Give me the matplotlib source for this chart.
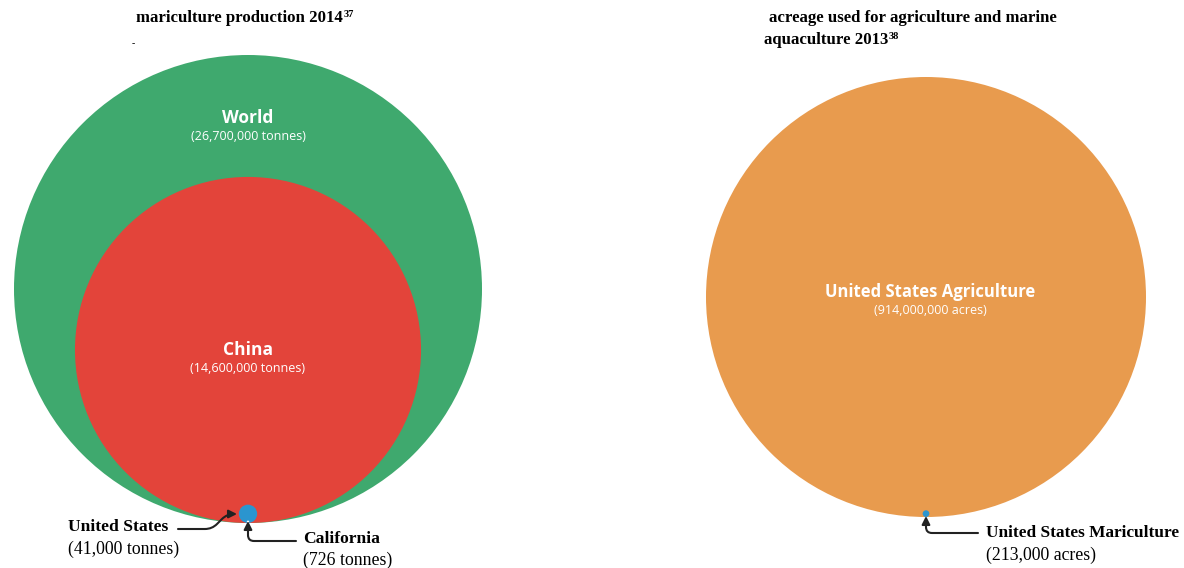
import numpy as np
import matplotlib
matplotlib.use("Agg")
import matplotlib.pyplot as plt
from matplotlib.patches import Circle

# left panel: mariculture production 2014 (tonnes)
prod_names = ["World", "China", "United States", "California"]
prod_values = [26700000, 14600000, 41000, 726]
prod_labels = ["(26,700,000 tonnes)", "(14,600,000 tonnes)",
               "(41,000 tonnes)", "(726 tonnes)"]
prod_colors = ["#3fa96e", "#e3443a", "#2b95cf", "#ffffff"]

# right panel: acreage 2013 (acres)
acre_names = ["United States Agriculture", "United States Mariculture"]
acre_values = [914000000, 213000]
acre_labels = ["(914,000,000 acres)", "(213,000 acres)"]
acre_colors = ["#e89b4e", "#2b95cf"]

W, H = 1184, 568
fig = plt.figure(figsize=(W / 100, H / 100), dpi=100)
ax = fig.add_axes([0, 0, 1, 1])
ax.set_xlim(0, W)
ax.set_ylim(H, 0)
ax.set_aspect("equal")
ax.axis("off")

serif = "Liberation Serif"
sans = "Open Sans"


def nested(values, colors, cx, bottom, rmax):
    # circles tangent at the bottom, area proportional to value
    radii = []
    for v, c in zip(values, colors):
        r = rmax * np.sqrt(v / values[0])
        radii.append(r)
        ax.add_patch(Circle((cx, bottom - r), max(r, 1.0), color=c, lw=0))
    return radii


def sup(t, s):
    # superscript footnote right after a title
    ax.annotate(s, xy=(1, 0.45), xycoords=t, xytext=(0.5, 0),
                textcoords="offset points", family=serif, weight="bold",
                fontsize=7.5, ha="left", va="bottom")


# left
lr = nested(prod_values, prod_colors, 248, 523, 234)
ax.text(248, 118, prod_names[0], color="white", ha="center", va="center",
        family=sans, weight="bold", fontsize=12.5)
ax.text(248, 137, prod_labels[0], color="white", ha="center", va="center",
        family=sans, fontsize=9)
ax.text(248, 350, prod_names[1], color="white", ha="center", va="center",
        family=sans, weight="bold", fontsize=12.5)
ax.text(248, 369, prod_labels[1], color="white", ha="center", va="center",
        family=sans, fontsize=9)

# right
rr = nested(acre_values, acre_colors, 926, 517, 220)
ax.text(930, 292, acre_names[0], color="white", ha="center", va="center",
        family=sans, weight="bold", fontsize=12)
ax.text(930, 311, acre_labels[0], color="white", ha="center", va="center",
        family=sans, fontsize=9)

# titles
t1 = ax.text(136, 18, "mariculture production 2014", family=serif,
             weight="bold", fontsize=12.1, ha="left", va="center")
sup(t1, "37")
ax.text(132, 44, "-", family=serif, fontsize=7, ha="left", va="center")
ax.text(769, 18, "acreage used for agriculture and marine", family=serif,
        weight="bold", fontsize=12.1, ha="left", va="center")
t2 = ax.text(764, 40, "aquaculture 2013", family=serif, weight="bold",
             fontsize=12.1, ha="left", va="center")
sup(t2, "38")

# annotations
arrow = dict(arrowstyle="-|>", color="#222222", lw=1.5, mutation_scale=12,
             shrinkA=0, shrinkB=0)
ax.text(68, 527, prod_names[2], family=serif, weight="bold", fontsize=12.6,
        ha="left", va="center")
ax.text(68, 549, prod_labels[2], family=serif, fontsize=12.8,
        ha="left", va="center")
ax.annotate("", xy=(237, 514), xytext=(178, 529),
            arrowprops=dict(arrow, connectionstyle="arc,angleA=0,angleB=180,armA=34,armB=10,rad=7"))

ax.text(303, 539, prod_names[3], family=serif, weight="bold", fontsize=12.6,
        ha="left", va="center")
ax.text(303, 560, prod_labels[3], family=serif, fontsize=12.8,
        ha="left", va="center")
ax.annotate("", xy=(248, 521), xytext=(296, 541),
            arrowprops=dict(arrow, connectionstyle="angle,angleA=180,angleB=90,rad=6"))

ax.text(986, 533, acre_names[1], family=serif, weight="bold", fontsize=12.4,
        ha="left", va="center")
ax.text(986, 555, acre_labels[1], family=serif, fontsize=12.8,
        ha="left", va="center")
ax.annotate("", xy=(926, 516), xytext=(978, 533),
            arrowprops=dict(arrow, connectionstyle="angle,angleA=180,angleB=90,rad=6"))

fig.savefig("out.png", dpi=100, facecolor="white")
